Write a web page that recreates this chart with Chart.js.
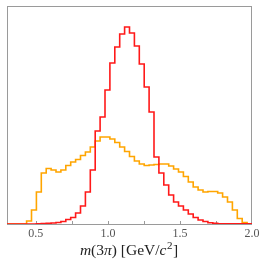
<!DOCTYPE html>
<html>
<head>
<meta charset="utf-8">
<script src="https://cdn.jsdelivr.net/npm/chart.js@4.4.1/dist/chart.umd.min.js"></script>
<style>
  html, body { margin: 0; padding: 0; background: #fff; }
  #wrap { width: 266px; height: 266px; }
</style>
</head>
<body>
<div id="wrap"><canvas id="hist" width="266" height="266"></canvas></div>
<script>
// histogram binning (0.3 - 2.0 GeV, 50 bins)
const binLo = 0.3, binHi = 2.0, nBins = 50;

// bin contents (arbitrary units)
const redCounts = [
  0, 0, 0, 0, 0, 0, 0.3, 0.5, 0.7, 1,
  1.5, 2.5, 4.5, 6.5, 11, 18, 32, 54, 93, 107,
  134, 161, 177, 190, 197, 191, 178, 160, 137, 112,
  67, 51, 39, 29, 22, 18, 14, 10, 6.5, 4,
  2.5, 1.3, 0.7, 0.3, 0.3, 0.3, 0.3, 0.3, 0.3, 0.3
];
const orangeCounts = [
  0, 0, 0, 0, 3, 14, 32, 51, 55.5, 54,
  52, 54, 58.5, 62, 64.5, 68.5, 72, 77, 83, 87,
  87, 85, 81.5, 77, 72.5, 67.5, 63, 60, 58.5, 59,
  59.5, 60, 60, 58, 55, 52, 47.5, 42, 37, 34,
  32, 32.5, 32.5, 31, 27, 22, 14, 5.5, 1.5, 0
];
const tickVals = [0.5, 1.0, 1.5, 2.0];
const minorVals = [0.5, 0.75, 1.0, 1.25, 1.5, 1.75];

const binW = (binHi - binLo) / nBins;
const edges = Array.from({length: nBins + 1}, (_, i) => binLo + i * binW);

// points at left edges, last bin closed at right edge
function stepPoints(counts) {
  const pts = counts.map((c, i) => ({x: edges[i], y: c}));
  pts.push({x: edges[nBins], y: counts[nBins - 1]});
  return pts;
}

const frame = {
  id: "frame",
  beforeDatasetsDraw(chart) {
    const {ctx, chartArea: a} = chart;
    const x = chart.scales.x;
    ctx.save();
    ctx.strokeStyle = "#9a9a9a";
    ctx.lineWidth = 1;
    ctx.strokeRect(a.left + 0.5, a.top + 0.5, a.right - a.left - 1, a.bottom - a.top);
    // inward ticks
    minorVals.forEach(v => {
      const px = Math.round(x.getPixelForValue(v)) + 0.5;
      ctx.beginPath();
      ctx.moveTo(px, a.bottom);
      ctx.lineTo(px, a.bottom - 3);
      ctx.stroke();
    });
    ctx.restore();
  },
  afterDraw(chart) {
    const {ctx} = chart;
    const size = 15.5;
    const parts = [
      ["m", "italic"], ["(3", ""], ["\u03c0", "italic"], [") [GeV/", ""],
      ["c", "italic"], ["2", "sup"], ["]", ""]
    ];
    const fontFor = s => s === "sup"
      ? `${Math.round(size * 0.7)}px "Liberation Serif"`
      : `${s} ${size}px "Liberation Serif"`;
    ctx.save();
    ctx.fillStyle = "#222";
    ctx.textBaseline = "alphabetic";
    let total = 0;
    parts.forEach(([t, s]) => { ctx.font = fontFor(s); total += ctx.measureText(t).width + (s === "sup" ? 1 : 0); });
    let cx = 129 - total / 2;
    const base = 255;
    parts.forEach(([t, s]) => {
      ctx.font = fontFor(s);
      ctx.fillText(t, cx + (s === "sup" ? 0.5 : 0), s === "sup" ? base - 6.5 : base);
      cx += ctx.measureText(t).width + (s === "sup" ? 1 : 0);
    });
    ctx.restore();
  }
};

new Chart(document.getElementById("hist"), {
  type: "line",
  data: {
    datasets: [
      { data: stepPoints(redCounts), borderColor: "rgb(255,25,25)", borderWidth: 1.6, stepped: true, pointRadius: 0, fill: false },
      { data: stepPoints(orangeCounts), borderColor: "#ffa500", borderWidth: 1.6, stepped: true, pointRadius: 0, fill: false }
    ]
  },
  options: {
    responsive: false,
    animation: false,
    devicePixelRatio: 1,
    layout: { padding: { left: 7, right: 14, top: 6, bottom: 0 } },
    plugins: { legend: { display: false }, tooltip: { enabled: false } },
    scales: {
      x: {
        type: "linear",
        min: binLo,
        max: binHi,
        grid: { display: false, drawTicks: false },
        border: { display: false },
        afterBuildTicks: s => { s.ticks = tickVals.map(v => ({value: v})); },
        afterFit: s => { s.height = 42; },
        ticks: {
          padding: 3,
          color: "#555",
          font: { family: "Liberation Serif", size: 12 },
          callback: v => v.toFixed(1)
        }
      },
      y: { display: false, min: 0, max: 218 }
    }
  },
  plugins: [frame]
});
</script>
</body>
</html>
